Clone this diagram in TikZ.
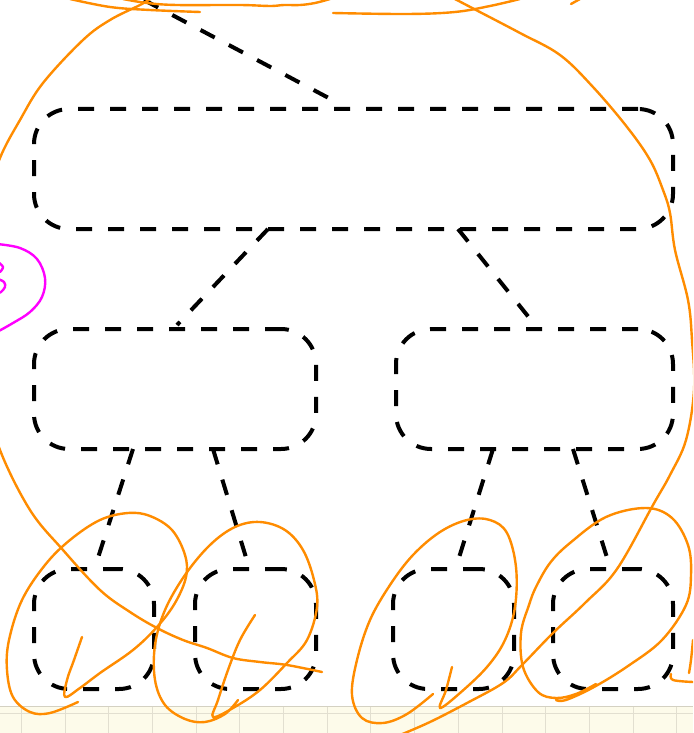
\documentclass[tikz,border=0pt]{standalone}
\definecolor{inkorange}{RGB}{255,140,0}
\definecolor{inkmagenta}{RGB}{255,0,255}
\definecolor{padfill}{RGB}{253,251,234}
\definecolor{padedge}{RGB}{212,209,194}
\definecolor{padline}{RGB}{226,223,208}
\begin{document}
\begin{tikzpicture}[x=1pt,y=-1pt,
  box/.style={draw=black, line width=4pt, dash pattern=on 16pt off 16pt,
    rounded corners=35pt, minimum height=120pt, inner sep=0pt, outer sep=0pt},
  conn/.style={draw=black, line width=4pt, dash pattern=on 16pt off 16pt},
  ink/.style={draw=inkorange, line width=2.4pt, line cap=round, line join=round},
  pink/.style={draw=inkmagenta, line width=2.4pt, line cap=round, line join=round}]
\useasboundingbox (0,0) rectangle (693,733);
\clip (0,0) rectangle (693,733);
\fill[white] (0,0) rectangle (693,733);

% ruled pad strip along the bottom
\fill[padfill] (0,706) rectangle (693,733);
\foreach \gx in {0,...,15}
  \draw[padline, line width=1pt] ({21.3+43.7*\gx},706) -- ({21.3+43.7*\gx},733);
\draw[padline, line width=1pt] (0,713) -- (693,713);
\draw[padedge, line width=1pt] (0,706) -- (693,706);

% tree of dashed boxes
\node[box, minimum width=639pt] (top) at (353.5,169) {};
\node[box, minimum width=282pt] (ml) at (175,389) {};
\node[box, minimum width=277pt] (mr) at (534.5,389) {};
\node[box, minimum width=120pt] (b1) at (94,629) {};
\node[box, minimum width=121pt] (b2) at (255.5,629) {};
\node[box, minimum width=121pt] (b3) at (453.5,629) {};
\node[box, minimum width=120pt] (b4) at (613,629) {};

\coordinate (up) at (144,0);
\draw[conn] (up) -- ([xshift=-13.5pt, yshift=5pt]top.north);
\draw[conn] ([xshift=-85.5pt]top.south) -- ([xshift=2pt, yshift=4pt]ml.north);
\draw[conn] ([xshift=104.5pt]top.south) -- ([xshift=0.5pt, yshift=4pt]mr.north);
\draw[conn] ([xshift=-42pt]ml.south) -- ([xshift=2pt, yshift=5pt]b1.north);
\draw[conn] ([xshift=38pt]ml.south) -- ([xshift=-7.5pt, yshift=5pt]b2.north);
\draw[conn] ([xshift=-41.5pt]mr.south) -- ([xshift=3.5pt, yshift=5pt]b3.north);
\draw[conn] ([xshift=38.5pt]mr.south) -- ([xshift=-4pt, yshift=5pt]b4.north);

% orange pen strokes
\draw[ink] plot[smooth, tension=0.6] coordinates {(152,-2) (140,5) (110,20) (83,40) (43,83) (20,120) (0,158) (-12,200) (-20,300) (-12,400) (0,450) (30,510) (63,550) (100,590) (130,612) (157,628) (183,640) (207,648) (233,658) (260,662) (287,665) (322,672)};
\draw[ink] plot[smooth, tension=0.6] coordinates {(70,-1) (110,7) (150,10) (200,12)};
\draw[ink] plot[smooth, tension=0.6] coordinates {(123,-1) (147,3) (177,5) (240,5) (270,6) (284,5) (300,5) (315,3) (330,-1)};
\draw[ink] plot[smooth, tension=0.6] coordinates {(333,13) (407,14) (455,12) (490,6) (520,-1)};
\draw[ink] plot[smooth, tension=0.6] coordinates {(453,-2) (476,10) (520,33) (560,55) (593,87) (627,127) (650,160) (663,190) (670,213) (675,250) (688,300) (692,340) (694,390) (686,440) (670,475) (653,505) (617,569) (585,603) (553,633) (522,665) (503,683) (467,703) (430,722) (400,735)};
\draw[ink] (571,4) -- (580,-1);
\draw[ink] plot[smooth, tension=0.6] coordinates {(693,640) (691,660) (689,673)};
\draw[ink] plot[smooth, tension=0.6] coordinates {(671,674) (673,680) (693,682)};

% loops and ticks over the leaf boxes
\draw[ink] plot[smooth, tension=0.6] coordinates {(82,637) (74,660) (67,680) (65,697) (80,688) (100,673) (133,650) (157,627) (175,603) (186,577) (185,555) (172,530) (150,516) (128,513) (100,520) (70,540) (45,565) (22,600) (9,640) (7,670) (13,697) (30,712) (50,713) (78,702)};
\draw[ink] plot[smooth, tension=0.6] coordinates {(255,615) (240,640) (228,670) (218,700) (213,717) (233,708) (260,690) (287,663) (307,640) (317,607) (314,580) (303,550) (285,530) (260,522) (235,527) (210,545) (185,575) (165,610) (155,645) (155,680) (165,705) (185,719) (205,722) (225,714) (238,700)};
\draw[ink] plot[smooth, tension=0.6] coordinates {(452,667) (446,690) (440,708) (460,693) (487,667) (505,640) (515,607) (516,567) (507,533) (490,520) (467,520) (440,532) (413,555) (390,585) (370,620) (357,660) (352,695) (362,718) (383,723) (407,714) (433,694)};
\draw[ink] plot[smooth, tension=0.6] coordinates {(596,684) (576,694) (556,698) (538,692) (523,667) (521,633) (529,605) (536,587) (550,563) (570,543) (606,517) (646,508) (672,518) (688,545) (691,575) (686,605) (662,640) (628,666) (594,687) (566,700) (556,700)};

% magenta pen strokes at the left edge
\draw[pink] plot[smooth, tension=0.6] coordinates {(-3,244) (20,248) (37,259) (45,278) (42,297) (30,312) (13,323) (-3,332)};
\draw[pink] plot[smooth, tension=0.6] coordinates {(-2,262) (3,267) (0,272)};
\draw[pink] plot[smooth, tension=0.6] coordinates {(-2,279) (4,282) (5,287) (1,292) (-2,293)};
\end{tikzpicture}
\end{document}
